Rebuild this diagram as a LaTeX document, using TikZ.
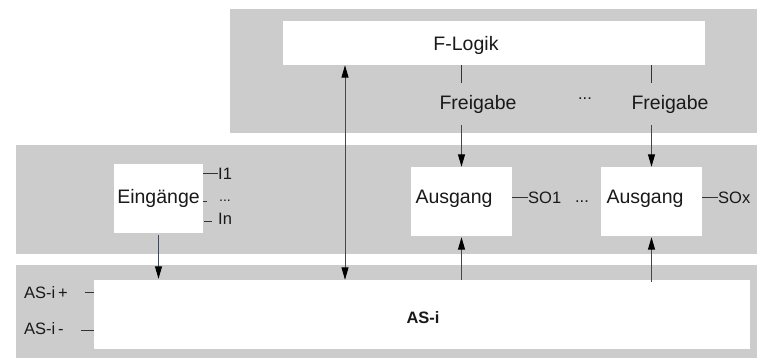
\documentclass[tikz,border=0pt]{standalone}
\usepackage{fontspec}
\setmainfont{Liberation Sans}
\usepackage{tikz}
\usetikzlibrary{positioning, arrows.meta}
\definecolor{panel}{HTML}{CCCCCC}
\definecolor{wire}{HTML}{3D4756}

\begin{document}
\begin{tikzpicture}[x=1pt,y=-1pt,
  box/.style={fill=white,inner sep=0pt,font=\fontsize{19.5}{22}\selectfont,text=black!90},
  big/.style={font=\fontsize{19.5}{22}\selectfont,text=black!90},
  small/.style={font=\fontsize{16.5}{19}\selectfont,inner sep=0pt,text=black!90},
  arr/.style={wire,line width=1pt,-{Triangle[length=12.5pt,width=7pt,color=black]}},
  tick/.style={black!80,line width=1pt}]
\useasboundingbox (0,0) rectangle (757,358);
% grey panels
\fill[panel] (230,9) rectangle (757,133);
\fill[panel] (16,145) rectangle (757,254);
\fill[panel] (16,265) rectangle (757,358);
% white blocks
\node[box,minimum width=422pt,minimum height=44pt,
  label={[big,xshift=-28pt,yshift=-2pt]center:F-Logik}] (flogik) at (494,43) {};
\node[box,minimum width=89pt,minimum height=69pt] (ein) at (158.5,198.5) {Eing\"ange};
\node[box,minimum width=101pt,minimum height=69pt,
  label={[big,xshift=-7.5pt,yshift=2.5pt]center:Ausgang}] (aus1) at (461.5,201.5) {};
\node[box,minimum width=101pt,minimum height=69pt,
  label={[big,xshift=-6.5pt,yshift=2.5pt]center:Ausgang}] (aus2) at (651.5,201.5) {};
\node[box,minimum width=656pt,minimum height=69pt,
  label={[small,font=\fontsize{16.5}{19}\selectfont\bfseries,xshift=1pt,yshift=-3pt]center:AS-i}] (asi) at (422,314.5) {};
% enable signals
\node[big,inner sep=12pt] (fg1) at (478,104) {Freigabe};
\node[big,inner sep=12pt] (fg2) at (670,104) {Freigabe};
\node[small,anchor=base] (fgdots) at (585,99.5) {...};
\draw[tick] (flogik.south -| aus1.north) -- (fg1.north -| aus1.north);
\draw[tick] (flogik.south -| aus2.north) -- (fg2.north -| aus2.north);
\draw[arr] (fg1.south -| aus1.north) -- (aus1.north);
\draw[arr] (fg2.south -| aus2.north) -- (aus2.north);
% bus connections
\coordinate (bus) at (345,0);
\draw[wire,line width=1pt,{Triangle[length=12.5pt,width=7pt,color=black]}-{Triangle[length=12.5pt,width=7pt,color=black]}]
  (flogik.south -| bus) -- (asi.north -| bus);
\draw[arr,shorten <=2pt,shorten >=1pt] (ein.south) -- (ein.south |- asi.north);
\draw[arr,shorten >=1pt] (asi.north -| aus1.south) -- (aus1.south);
\draw[arr,shorten >=1pt,shorten <=-2pt] (asi.north -| aus2.south) -- (aus2.south);
% inputs
\node[small,anchor=west] (i1) at (218,174) {I1};
\node[small,anchor=base west,font=\fontsize{14}{16}\selectfont] (idots) at (219,201.5) {...};
\node[small,anchor=west] (in) at (218,219) {In};
\draw[tick] (i1.west) -- (i1.west -| ein.east);
\draw[tick,shorten <=12pt] ([yshift=-1pt]idots.west) -- ([yshift=-1pt]idots.west -| ein.east);
\draw[tick,shorten <=6pt,shorten >=1pt] ([yshift=-2pt]in.west) -- ([yshift=-2pt]in.west -| ein.east);
% outputs
\node[small,anchor=west] (so1) at (528,198) {SO1};
\node[small,anchor=west] (sox) at (718,198) {SOx};
\node[small,anchor=base] (ausdots) at (582,202) {...};
\draw[tick] ([yshift=1pt]so1.west) -- ([yshift=1pt]so1.west -| aus1.east);
\draw[tick] ([yshift=1pt]sox.west) -- ([yshift=1pt]sox.west -| aus2.east);
% bus lines
\node[small,anchor=base west] (asplus) at (24,298.5) {AS-i\,+};
\node[small,anchor=base west] (asminus) at (24,334) {AS-i\,-};
\draw[tick,shorten <=17pt] (asplus.east) -- (asplus.east -| asi.west);
\draw[tick,shorten <=17pt] ([yshift=-2.5pt]asminus.east) -- ([yshift=-2.5pt]asminus.east -| asi.west);
\end{tikzpicture}
\end{document}
